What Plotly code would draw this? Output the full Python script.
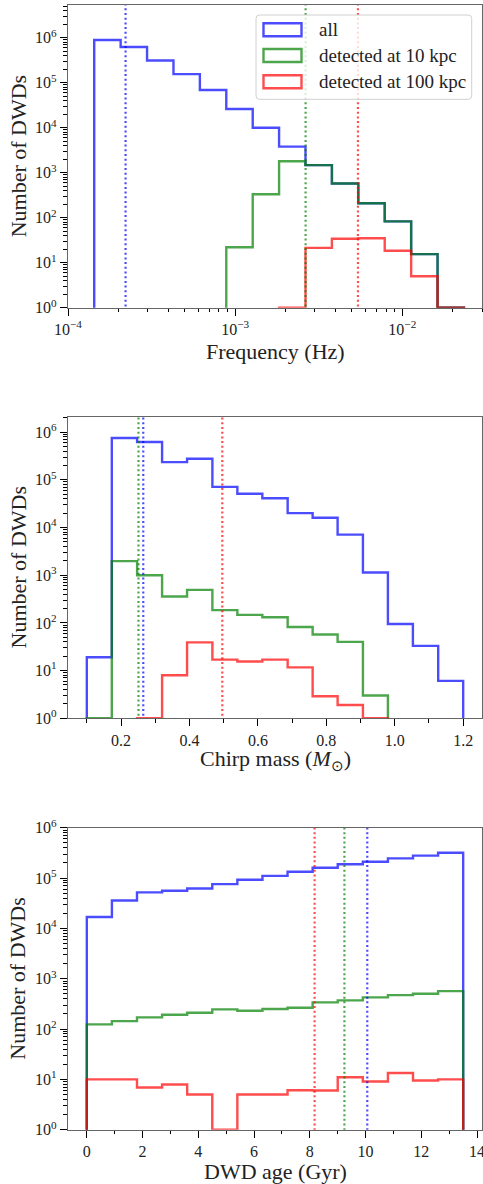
import plotly.graph_objects as go

W, H = 483, 1184
FONT = "Liberation Serif"

labels = ["all", "detected at 10 kpc", "detected at 100 kpc"]
colors = ["rgba(0,0,255,0.7)", "rgba(0,128,0,0.7)", "rgba(255,0,0,0.7)"]

# ---------------- Panel 1: frequency (Hz) ----------------
freq_edges = [1.435e-4, 2.065e-4, 2.972e-4, 4.276e-4, 6.152e-4, 8.851e-4, 1.274e-3,
              1.832e-3, 2.636e-3, 3.793e-3, 5.458e-3, 7.852e-3, 1.130e-2, 1.626e-2, 2.339e-2]
freq_all = [8.9e5, 6.2e5, 3.1e5, 1.55e5, 6.9e4, 2.6e4, 1.0e4, 3.8e3, 1470, 574, 209, 83, 15.5, 1]
freq_10 = [0, 0, 0, 0, 0, 22, 331, 1800, 1470, 574, 209, 83, 15.5, 1]
freq_100 = [0, 0, 0, 0, 0, 0, 0, 1, 21.4, 34, 35, 18.4, 5, 1]
freq_median = [2.21e-4, 2.64e-3, 5.43e-3]

# ---------------- Panel 2: chirp mass ----------------
chirp_edges = [0.1, 0.173, 0.247, 0.32, 0.393, 0.467, 0.54, 0.613, 0.687, 0.76,
               0.833, 0.907, 0.98, 1.053, 1.127, 1.2]
chirp_all = [19, 7.5e5, 6.2e5, 2.35e5, 2.76e5, 7.1e4, 5.1e4, 4.1e4, 2.0e4, 1.6e4,
             7.1e3, 1.14e3, 95, 33, 6.1]
chirp_10 = [1, 1970, 1000, 357, 492, 185, 147, 131, 82, 57, 40, 3, 0, 0, 0]
chirp_100 = [0, 0, 1, 8, 39, 17, 15.5, 17, 11.7, 2.9, 1.9, 1, 0, 0, 0]
chirp_median = [0.265, 0.251, 0.496]

# ---------------- Panel 3: DWD age (Gyr) ----------------
age_edges = [0, 0.9, 1.8, 2.7, 3.6, 4.5, 5.4, 6.3, 7.2, 8.1, 9.0, 9.9, 10.8, 11.7, 12.6, 13.5]
age_all = [1.69e4, 3.6e4, 5.2e4, 5.6e4, 6.2e4, 7.6e4, 9.3e4, 1.11e5, 1.34e5, 1.61e5,
           1.88e5, 2.12e5, 2.47e5, 2.8e5, 3.2e5]
age_10 = [124, 144, 171, 193, 211, 246, 231, 250, 265, 339, 371, 426, 473, 503, 568]
age_100 = [10, 10, 6.9, 7.9, 5.0, 1, 5, 5, 6.1, 6, 11, 9.1, 13.4, 9.5, 10]
age_median = [10.06, 9.24, 8.17]

panels = [
    dict(edges=freq_edges, counts=[freq_all, freq_10, freq_100], med=freq_median,
         top=5.0, bottom=307.7, xtype="log", xrange=[-4, -1.523], yrange=[0, 6.726],
         xtitle="Frequency (Hz)", xtitle_y=351.5,
         xticks=[1e-4, 1e-3, 1e-2], xticktext=["10<sup>\u22124</sup>", "10<sup>\u22123</sup>", "10<sup>\u22122</sup>"],
         xminor=[k * 10.0 ** d for d in (-4, -3, -2) for k in range(2, 10)]),
    dict(edges=chirp_edges, counts=[chirp_all, chirp_10, chirp_100], med=chirp_median,
         top=416.7, bottom=718.3, xtype="linear", xrange=[0.045, 1.255], yrange=[0, 6.323],
         xtitle="Chirp mass (<i>M</i><sub>\u2299</sub>)", xtitle_y=760,
         xticks=[0.2, 0.4, 0.6, 0.8, 1.0, 1.2], xticktext=["0.2", "0.4", "0.6", "0.8", "1.0", "1.2"],
         xminor=[0.1, 0.3, 0.5, 0.7, 0.9, 1.1]),
    dict(edges=age_edges, counts=[age_all, age_10, age_100], med=age_median,
         top=827.8, bottom=1129.7, xtype="linear", xrange=[-0.675, 14.175], yrange=[0, 6],
         xtitle="DWD age (Gyr)", xtitle_y=1171.5,
         xticks=[0, 2, 4, 6, 8, 10, 12, 14], xticktext=["0", "2", "4", "6", "8", "10", "12", "14"],
         xminor=[1, 3, 5, 7, 9, 11, 13]),
]

X0, X1 = 68.0, 482.0
yticks = [1, 10, 100, 1e3, 1e4, 1e5, 1e6]
ytext = ["10<sup>%d</sup>" % i for i in range(7)]
yminor = [k * 10.0 ** d for d in range(0, 7) for k in range(2, 10)]

fig = go.Figure()
layout = dict(template="none", width=W, height=H, margin=dict(l=0, r=0, t=0, b=0, pad=0),
              autosize=False,
              paper_bgcolor="white", plot_bgcolor="white", showlegend=False,
              font=dict(family=FONT, color="#222"))
annotations = []
shapes = []


def px_x(p):
    return p / W


def px_y(p):
    return 1 - p / H


for i, p in enumerate(panels):
    n = "" if i == 0 else str(i + 1)
    xa, ya = "x" + n, "y" + n
    common = dict(showline=True, linecolor="#666", linewidth=1.3, mirror=True,
                  ticks="outside", ticklen=7, tickwidth=1.3, tickcolor="black",
                  showgrid=False, zeroline=False, automargin=False, ticklabeloverflow="allow",
                  tickfont=dict(family=FONT, size=16, color="#222"))
    layout["xaxis" + n] = dict(
        domain=[px_x(X0), px_x(X1)], anchor=ya, type=p["xtype"], range=p["xrange"],
        tickmode="array", tickvals=p["xticks"], ticktext=p["xticktext"],
        minor=dict(ticks="outside", ticklen=3.5, tickwidth=1, tickcolor="black",
                   tickmode="array", tickvals=p["xminor"], showgrid=False),
        **common)
    layout["yaxis" + n] = dict(
        domain=[px_y(p["bottom"]), px_y(p["top"])], anchor=xa, type="log", range=p["yrange"],
        tickmode="array", tickvals=yticks, ticktext=ytext,
        minor=dict(ticks="outside", ticklen=4, tickwidth=1, tickcolor="black",
                   tickmode="array", tickvals=yminor, showgrid=False),
        **common)

    edges = p["edges"]
    for counts, col, lab in zip(p["counts"], colors, labels):
        vals = [c if c > 0 else 1e-3 for c in counts]
        xs = [edges[0]] + list(edges) + [edges[-1]]
        ys = [1e-3] + vals + [vals[-1], 1e-3]
        fig.add_trace(go.Scatter(x=xs, y=ys, mode="lines", line=dict(color=col, width=2.4, shape="hv"),
                                 name=lab, xaxis=xa, yaxis=ya, hoverinfo="skip"))
    for m, col in zip(p["med"], colors):
        fig.add_trace(go.Scatter(x=[m, m], y=[1e-3, 1e9], mode="lines",
                                 line=dict(color=col, width=2.2, dash="2px,2.7px"),
                                 xaxis=xa, yaxis=ya, hoverinfo="skip", showlegend=False))

    annotations.append(dict(text=p["xtitle"], x=px_x((X0 + X1) / 2), y=px_y(p["xtitle_y"]),
                            xref="paper", yref="paper", showarrow=False, xanchor="center",
                            yanchor="middle", font=dict(family=FONT, size=22, color="#222")))
    annotations.append(dict(text="Number of DWDs", x=px_x(18), y=px_y((p["top"] + p["bottom"]) / 2),
                            xref="paper", yref="paper", showarrow=False, textangle=-90,
                            xanchor="center", yanchor="middle",
                            font=dict(family=FONT, size=22, color="#222")))

# ---------------- legend (top panel) ----------------
lx0, lx1, ly0, ly1, r = 256.0, 471.7, 15.0, 99.3, 3.5


def rr_path(x0, y0, x1, y1, rad):
    X = lambda v: px_x(v)
    Y = lambda v: px_y(v)
    return ("M %f,%f L %f,%f Q %f,%f %f,%f L %f,%f Q %f,%f %f,%f L %f,%f Q %f,%f %f,%f L %f,%f Q %f,%f %f,%f Z" % (
        X(x0 + rad), Y(y0), X(x1 - rad), Y(y0), X(x1), Y(y0), X(x1), Y(y0 + rad),
        X(x1), Y(y1 - rad), X(x1), Y(y1), X(x1 - rad), Y(y1),
        X(x0 + rad), Y(y1), X(x0), Y(y1), X(x0), Y(y1 - rad),
        X(x0), Y(y0 + rad), X(x0), Y(y0), X(x0 + rad), Y(y0)))


shapes.append(dict(type="path", path=rr_path(lx0, ly0, lx1, ly1, r), xref="paper", yref="paper",
                   line=dict(color="#d0d0d0", width=1), fillcolor="rgba(255,255,255,0.8)", layer="above"))
row_y = [29.7, 55.5, 81.8]
for lab, col, yc in zip(labels, colors, row_y):
    shapes.append(dict(type="rect", xref="paper", yref="paper",
                       x0=px_x(263.5), x1=px_x(301.5), y0=px_y(yc - 6.5), y1=px_y(yc + 6.5),
                       line=dict(color=col, width=2.4), fillcolor="rgba(0,0,0,0)", layer="above"))
    annotations.append(dict(text=lab, x=px_x(316.5), y=px_y(yc), xref="paper", yref="paper",
                            showarrow=False, xanchor="left", yanchor="middle",
                            font=dict(family=FONT, size=19, color="#222")))

layout["annotations"] = annotations
layout["shapes"] = shapes
fig.update_layout(**layout)
fig.write_html("out.html",
               config={"displayModeBar": False},
               post_script="document.body.style.margin='0';document.body.style.overflow='hidden';")
